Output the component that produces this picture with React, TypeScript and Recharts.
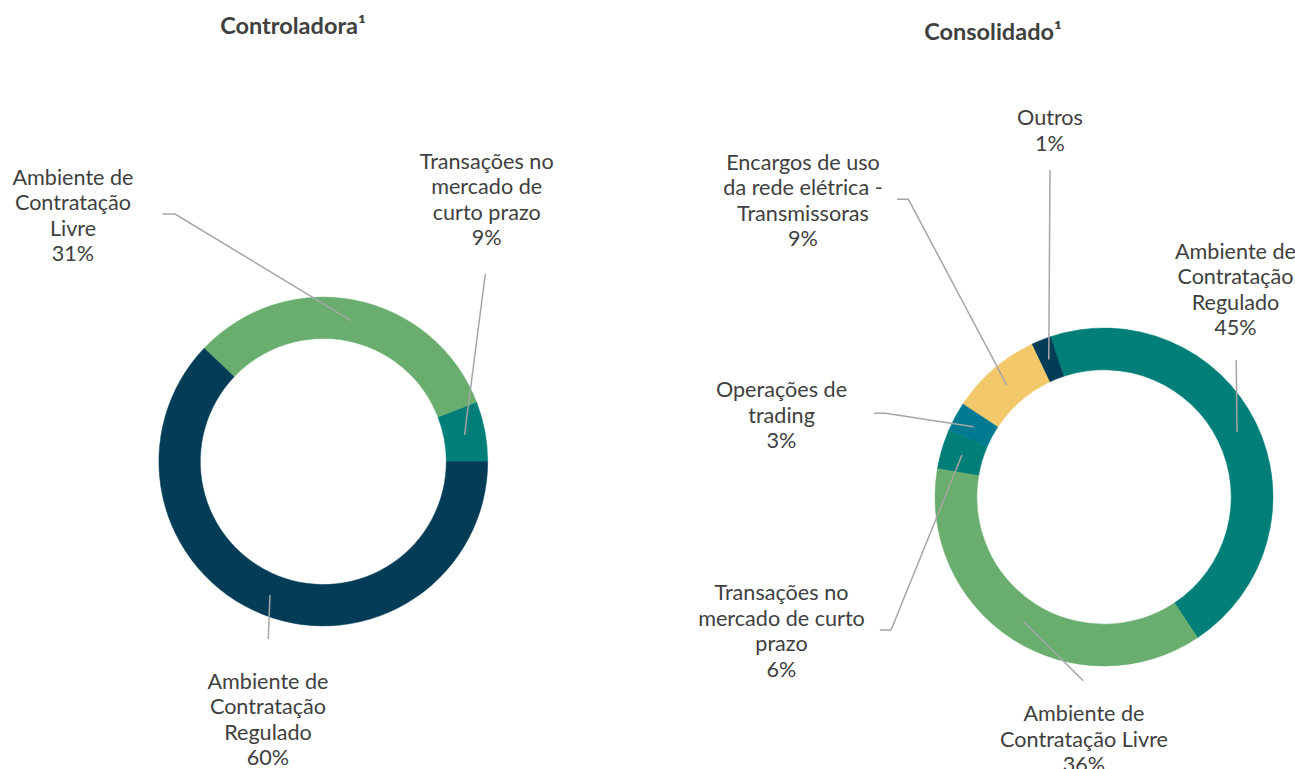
import { PieChart, Pie, Cell } from 'recharts';

// Controladora (order: counter-clockwise from 3 o'clock)
const controladoraNames = [
  'Transações no mercado de curto prazo',
  'Ambiente de Contratação Livre',
  'Ambiente de Contratação Regulado',
];
const controladoraValues = [5.9, 32.0, 62.1];
const controladoraPercents = ['9%', '31%', '60%'];
const controladoraTextLines = [
  ['Transações no', 'mercado de', 'curto prazo'],
  ['Ambiente de', 'Contratação', 'Livre'],
  ['Ambiente de', 'Contratação', 'Regulado'],
];

// Consolidado (order: counter-clockwise from lower right)
const consolidadoNames = [
  'Ambiente de Contratação Regulado',
  'Outros',
  'Encargos de uso da rede elétrica - Transmissoras',
  'Operações de trading',
  'Transações no mercado de curto prazo',
  'Ambiente de Contratação Livre',
];
const consolidadoValues = [45.8, 1.9, 8.7, 2.8, 3.8, 37.0];
const consolidadoPercents = ['45%', '1%', '9%', '3%', '6%', '36%'];
const consolidadoTextLines = [
  ['Ambiente de', 'Contratação', 'Regulado'],
  ['Outros'],
  ['Encargos de uso', 'da rede elétrica -', 'Transmissoras'],
  ['Operações de', 'trading'],
  ['Transações no', 'mercado de curto', 'prazo'],
  ['Ambiente de', 'Contratação Livre'],
];

const controladoraColors = ['#007F78', '#69AE6E', '#033C57'];
const consolidadoColors = ['#007F78', '#033C57', '#F3C86A', '#007A91', '#007F78', '#69AE6E'];

// leader line elbows and text anchors, offsets from the pie centre
const controladoraLayout = [
  { pts: [[162, -187.5]], tx: 163.4, ty: -299.8 },
  { pts: [[-148.3, -247.5], [-160.8, -247.5]], tx: -250.3, ty: -283.8 },
  { pts: [[-55, 177.5]], tx: -55.3, ty: 220.3 },
];
const consolidadoLayout = [
  { pts: [[132.2, -137]], tx: 131.5, ty: -245.3 },
  { pts: [[-54, -327]], tx: -54, ty: -378.7 },
  { pts: [[-195.6, -297.7], [-207, -297.7]], tx: -301, ty: -334.3 },
  { pts: [[-218.4, -83.7], [-230, -83.7]], tx: -322.5, ty: -107 },
  { pts: [[-213, 133], [-224.2, 133]], tx: -322.5, ty: 96.3 },
  { pts: [[-20.8, 183.7]], tx: -20, ty: 217.3 },
];

const RADIAN = Math.PI / 180;
const LINE_H = 25.5;
const FONT = 'Lato, "Open Sans", sans-serif';

function makeLabel(layout: any[], textLines: string[][], percents: string[]) {
  return (props: any) => {
    const { cx, cy, midAngle, innerRadius, outerRadius, index } = props;
    const r = (innerRadius + outerRadius) / 2;
    const sx = cx + r * Math.cos(-midAngle * RADIAN);
    const sy = cy + r * Math.sin(-midAngle * RADIAN);
    const lay = layout[index];
    const points = [[sx, sy], ...lay.pts.map((p: number[]) => [cx + p[0], cy + p[1]])]
      .map((p) => p.join(','))
      .join(' ');
    const lines = [...textLines[index], percents[index]];
    return (
      <g key={`lbl-${index}`}>
        <polyline points={points} fill="none" stroke="#A6A6A6" strokeWidth={1.5} />
        <text
          x={cx + lay.tx}
          y={cy + lay.ty + 7}
          textAnchor="middle"
          fill="#404040"
          fontSize={21.6}
          fontFamily={FONT}
        >
          {lines.map((l, i) => (
            <tspan key={i} x={cx + lay.tx} dy={i === 0 ? 0 : LINE_H}>
              {l}
            </tspan>
          ))}
        </text>
      </g>
    );
  };
}

const controladoraData = controladoraNames.map((name, i) => ({ name, value: controladoraValues[i] }));
const consolidadoData = consolidadoNames.map((name, i) => ({ name, value: consolidadoValues[i] }));

const titleStyle: React.CSSProperties = {
  position: 'absolute',
  fontFamily: FONT,
  fontWeight: 700,
  fontSize: 23.5,
  color: '#404040',
  transform: 'translate(-50%, -50%)',
  whiteSpace: 'nowrap',
};

export default function App() {
  return (
    <div style={{ position: 'absolute', left: 0, top: 0, width: 1295, height: 769, background: '#fff' }}>
      <div style={{ ...titleStyle, left: 293, top: 25 }}>Controladora¹</div>
      <div style={{ ...titleStyle, left: 993, top: 31 }}>Consolidado¹</div>
      <PieChart width={1295} height={769} margin={{ top: 0, right: 0, bottom: 0, left: 0 }}>
        <Pie
          data={controladoraData}
          dataKey="value"
          nameKey="name"
          cx={323.3}
          cy={461.5}
          innerRadius={123}
          outerRadius={164.4}
          startAngle={0}
          endAngle={360}
          paddingAngle={0}
          isAnimationActive={false}
          labelLine={false}
          label={makeLabel(controladoraLayout, controladoraTextLines, controladoraPercents)}
        >
          {controladoraData.map((_, i) => (
            <Cell key={i} fill={controladoraColors[i]} stroke={controladoraColors[i]} strokeWidth={0.5} />
          ))}
        </Pie>
        <Pie
          data={consolidadoData}
          dataKey="value"
          nameKey="name"
          cx={1104}
          cy={497}
          innerRadius={127.2}
          outerRadius={169}
          startAngle={-56.4}
          endAngle={303.6}
          paddingAngle={0}
          isAnimationActive={false}
          labelLine={false}
          label={makeLabel(consolidadoLayout, consolidadoTextLines, consolidadoPercents)}
        >
          {consolidadoData.map((_, i) => (
            <Cell key={i} fill={consolidadoColors[i]} stroke={consolidadoColors[i]} strokeWidth={0.5} />
          ))}
        </Pie>
      </PieChart>
    </div>
  );
}
